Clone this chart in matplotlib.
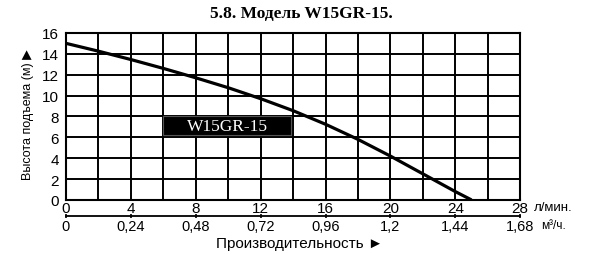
import matplotlib
matplotlib.use('Agg')
import matplotlib.pyplot as plt
from matplotlib.patches import Rectangle
from matplotlib.ticker import MultipleLocator, FixedLocator, FuncFormatter

# Pump curve W15GR-15 (flow in l/min, head in m)
flow_lpm = [0, 2, 4, 6, 8, 10, 12, 14, 16, 18, 20, 22, 24, 25.0]
head_m = [15.0, 14.25, 13.45, 12.6, 11.7, 10.75, 9.7, 8.55, 7.25, 5.8, 4.2, 2.5, 0.8, 0]

lpm_ticks = [0, 4, 8, 12, 16, 20, 24, 28]
m3h_ticks = [0, 0.24, 0.48, 0.72, 0.96, 1.2, 1.44, 1.68]
head_ticks = [0, 2, 4, 6, 8, 10, 12, 14, 16]

model_name = 'W15GR-15'
title = '5.8. Модель W15GR-15.'

plt.rcParams['font.family'] = ['Liberation Sans', 'DejaVu Sans']

fig = plt.figure(figsize=(6, 2.55), dpi=100)
ax = fig.add_axes([0.11, 0.212, 0.757, 0.655])

ax.plot(flow_lpm, head_m, color='black', lw=2.3, solid_capstyle='butt', zorder=3)

ax.set_xlim(0, 28)
ax.set_ylim(0, 16)
ax.xaxis.set_major_locator(FixedLocator(lpm_ticks))
ax.xaxis.set_minor_locator(MultipleLocator(2))
ax.yaxis.set_major_locator(FixedLocator(head_ticks))
ax.grid(True, which='both', color='black', lw=1.4)
ax.set_axisbelow(True)
for s in ax.spines.values():
    s.set_linewidth(1.5)
ax.tick_params(which='both', length=0, labelsize=11)
ax.tick_params(axis='x', pad=0.5)
ax.tick_params(axis='y', pad=5)

# second flow scale in m3/h
sec = ax.secondary_xaxis(-0.096, functions=(lambda q: q * 0.06, lambda q: q / 0.06))
sec.xaxis.set_major_locator(FixedLocator(m3h_ticks))
sec.xaxis.set_major_formatter(FuncFormatter(lambda v, p: ('%g' % round(v, 2)).replace('.', ',')))
sec.tick_params(length=3, width=1.2, direction='inout', labelsize=10.5, pad=0.5)
sec.spines['bottom'].set_linewidth(1.3)

ax.text(1.03, -0.045, 'л/мин.', transform=ax.transAxes, fontsize=9.5, va='center', ha='left')
ax.text(1.045, -0.15, 'м³/ч.', transform=ax.transAxes, fontsize=8.5, va='center', ha='left')
ax.text(0.515, -0.255, 'Производительность ►', transform=ax.transAxes,
        fontsize=11, va='center', ha='center')
ax.text(-0.084, 0.515, 'Высота подъема (м) ▶', transform=ax.transAxes, rotation=90,
        fontsize=9, va='center', ha='center')

# model label box
ax.add_patch(Rectangle((6, 6.2), 7.9, 1.8, facecolor='black', edgecolor='#555555', lw=0.8, zorder=4))
ax.text(9.95, 7.1, model_name, color='white', fontsize=12.5, family='Liberation Serif',
        ha='center', va='center', zorder=5)

fig.text(0.502, 0.945, title, fontsize=12.5, fontweight='bold', family='Liberation Serif',
         ha='center', va='center')

fig.savefig('out.png', dpi=100)
